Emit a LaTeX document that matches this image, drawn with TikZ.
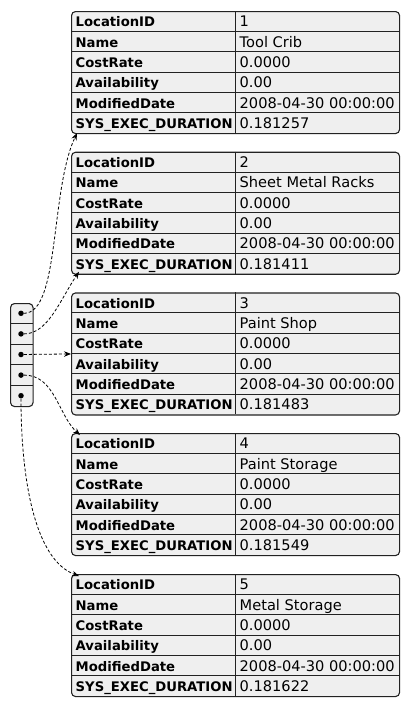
\documentclass[tikz,border=0pt]{standalone}
\usepackage{fontspec}
\setmainfont{DejaVu Sans}
\usetikzlibrary{arrows.meta,calc}
\definecolor{cellfill}{HTML}{EFEFEF}
\definecolor{edge}{HTML}{222222}
\tikzset{
  tbl/.style={draw=edge, line width=1.1pt, rounded corners=4pt, fill=cellfill, inner sep=0pt},
  rowline/.style={draw=edge, line width=0.8pt},
  lbl/.style={anchor=base west, inner sep=0pt, font=\fontsize{13.2}{14}\selectfont\bfseries, text=black},
  val/.style={anchor=base west, inner sep=0pt, font=\fontsize{14.6}{15}\selectfont, text=black},
  ptr/.style={draw=black, line width=0.8pt, dash pattern=on 3pt off 2pt, -{Stealth[length=7pt,width=5.5pt]}},
  dot/.style={circle, fill=black, inner sep=0pt, minimum size=5.5pt}
}
% one record of the location list: #1 name, #2 top edge, #3 id, #4 location, #5 duration
\newcommand\loctable[5]{%
  \node[tbl, minimum width=328pt, minimum height=122pt, anchor=north west] (#1) at (71,#2) {};
  \foreach \k in {1,...,5} \draw[rowline] (71,{#2+20.33*\k}) -- (399,{#2+20.33*\k});
  \draw[rowline] (235,#2) -- (235,{#2+122});
  \node[lbl] (#1-l1) at (75.5,{#2+15.8}) {LocationID};
  \node[lbl] (#1-l2) at (75.5,{#2+15.8+20.33}) {Name};
  \node[lbl] (#1-l3) at (75.5,{#2+15.8+2*20.33}) {CostRate};
  \node[lbl] (#1-l4) at (75.5,{#2+15.8+3*20.33}) {Availability};
  \node[lbl] (#1-l5) at (75.5,{#2+15.8+4*20.33}) {ModifiedDate};
  \node[lbl] (#1-l6) at (75.5,{#2+15.8+5*20.33}) {SYS\_EXEC\_DURATION};
  \node[val] (#1-v1) at (239.5,{#2+15.8}) {#3};
  \node[val] (#1-v2) at (239.5,{#2+15.8+20.33}) {#4};
  \node[val] (#1-v3) at (239.5,{#2+15.8+2*20.33}) {0.0000};
  \node[val] (#1-v4) at (239.5,{#2+15.8+3*20.33}) {0.00};
  \node[val] (#1-v5) at (239.5,{#2+15.8+4*20.33}) {2008-04-30 00:00:00};
  \node[val] (#1-v6) at (239.5,{#2+15.8+5*20.33}) {#5};
}
\begin{document}
\begin{tikzpicture}[x=1pt, y=-1pt]
\useasboundingbox (0,0) rectangle (410,707);

\loctable{t1}{11}{1}{Tool Crib}{0.181257}
\loctable{t2}{151.7}{2}{Sheet Metal Racks}{0.181411}
\loctable{t3}{292.4}{3}{Paint Shop}{0.181483}
\loctable{t4}{433}{4}{Paint Storage}{0.181549}
\loctable{t5}{574}{5}{Metal Storage}{0.181622}

% the list of pointers
\node[tbl, minimum width=22.5pt, minimum height=103pt, anchor=north west] (list) at (10,303) {};
\foreach \k in {1,...,4} \draw[rowline] (10,{303+20.6*\k}) -- (32.5,{303+20.6*\k});
\foreach \k in {1,...,5} \node[dot] (d\k) at (21,{303+20.6*\k-10.3}) {};

% pointers to the records
\draw[ptr] (d1) .. controls (60,313.3) and (50,190) .. ($(t1.south west)+(6,-1)$);
\draw[ptr] (d2) .. controls (48,334) and (60,300) .. ($(t2.south west)+(8,-3)$);
\draw[ptr] (d3) -- (t3.west);
\draw[ptr] (d4) .. controls (55,375) and (58,415) .. ($(t4.north west)+(9,2)$);
\draw[ptr] (d5) .. controls (21,480) and (35,560) .. ($(t5.north west)+(8,2)$);
\end{tikzpicture}
\end{document}
